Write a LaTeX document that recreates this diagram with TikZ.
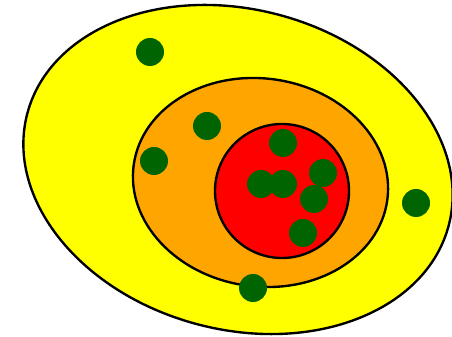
\documentclass[tikz,border=0pt]{standalone}
\usepackage{tikz}
\usetikzlibrary{shapes.geometric}
\definecolor{outerY}{RGB}{255,255,0}
\definecolor{midO}{RGB}{255,165,0}
\definecolor{coreR}{RGB}{255,0,0}
\definecolor{dotG}{RGB}{0,100,0}
\tikzset{
  region/.style={draw=black, line width=1.35pt},
  dot/.style={circle, fill=dotG, draw=none, inner sep=0pt, minimum size=0.56cm},
}
\begin{document}
\begin{tikzpicture}[x=0.02cm, y=0.02cm]
  \useasboundingbox (0,0) rectangle (452,337);
  % Nested regions
  \draw[region, fill=outerY] (238,167.5) ellipse [x radius=218, y radius=160, rotate=-15];
  \draw[region, fill=midO] (260.5,154.5) ellipse [x radius=128, y radius=104, rotate=-8];
  \draw[region, fill=coreR] (282,146) circle [radius=67];
  % Points
  \node[dot] (p1) at (150,285) {};
  \node[dot] (p2) at (207,211) {};
  \node[dot] (p3) at (154,176) {};
  \node[dot] (p4) at (283,194) {};
  \node[dot] (p5) at (261,153) {};
  \node[dot] (p6) at (283,153) {};
  \node[dot] (p7) at (323,164) {};
  \node[dot] (p8) at (314,138) {};
  \node[dot] (p9) at (303,104) {};
  \node[dot] (p10) at (416,134) {};
  \node[dot] (p11) at (253,49) {};
\end{tikzpicture}
\end{document}
